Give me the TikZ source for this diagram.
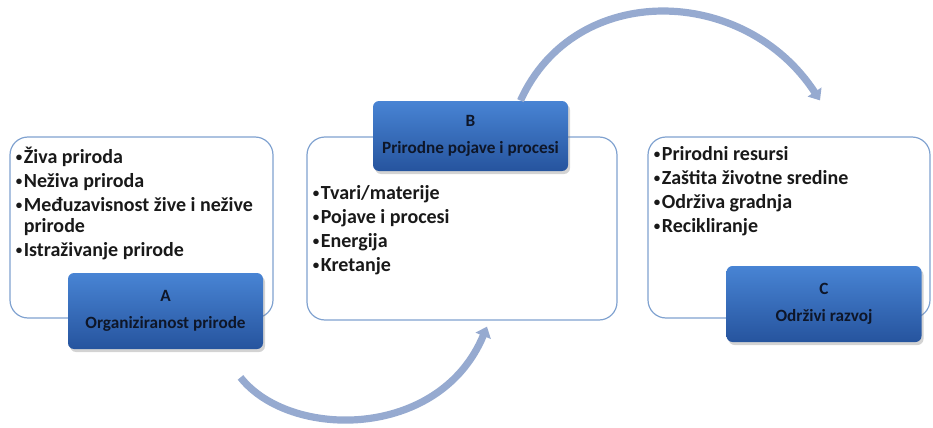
\documentclass[tikz,border=0pt]{standalone}
\usepackage{fontspec}
\setmainfont{Carlito}
\usepackage{tikz}
\usetikzlibrary{arrows.meta, positioning, shadows, calc}
\definecolor{frame}{RGB}{128, 162, 208}
\definecolor{boxtop}{RGB}{72, 132, 212}
\definecolor{boxbottom}{RGB}{38, 84, 158}
\definecolor{boxtext}{RGB}{14, 22, 40}
\definecolor{flow}{RGB}{150, 170, 208}
\newcommand{\bul}{{\fontsize{6.5}{6.5}\selectfont\raisebox{1.1pt}{•}}\hspace{0.8pt}}

\begin{document}
\begin{tikzpicture}[x=0.5pt, y=-0.5pt,
  listbox/.style={draw=frame, line width=0.6pt, rounded corners=9pt, inner sep=0pt},
  titlebox/.style={top color=boxtop, bottom color=boxbottom, draw=none, rounded corners=3pt,
    drop shadow={shadow xshift=1pt, shadow yshift=-1.5pt, opacity=0.35},
    minimum width=97.5pt, font=\fontsize{8.6}{11}\selectfont\bfseries, text=boxtext, align=center},
  items/.style={anchor=north west, inner sep=0pt, align=left, text=black!90,
    font=\fontsize{10}{10.5}\selectfont\bfseries},
  flowarrow/.style={draw=flow, line width=3.6pt, -{Triangle[length=5pt, width=8pt]}}]

  \useasboundingbox (0,0) rectangle (933,428);

  % outline boxes
  \node[listbox, minimum width=131.5pt, minimum height=90.5pt] (listA) at (141.5,227.5) {};
  \node[listbox, minimum width=155pt, minimum height=91.5pt] (listB) at (462,228.5) {};
  \node[listbox, minimum width=141pt, minimum height=90.5pt] (listC) at (789,227.5) {};

  % title boxes
  \node[titlebox, minimum height=38pt] (boxA) at (165.5,311) {A\\[2.5pt]Organiziranost prirode};
  \node[titlebox, minimum height=35pt] (boxB) at (470.5,136) {B\\[2.5pt]Prirodne pojave i procesi};
  \node[titlebox, minimum height=38pt] (boxC) at (824,304) {C\\[2.5pt]Održivi razvoj};

  % bullet lists
  \node[items] (itemsA) at ($(listA.north west)+(6,10)$)
    {\bul Živa priroda\\[1.5pt]\bul Neživa priroda\\[1.5pt]\bul Međuzavisnost žive i nežive\\\phantom{\bul}prirode\\[1.5pt]\bul Istraživanje prirode};
  \node[items] (itemsB) at ($(listB.west |- boxB.south)+(6,14)$)
    {\bul Tvari/materije\\[1.5pt]\bul Pojave i procesi\\[1.5pt]\bul Energija\\[1.5pt]\bul Kretanje};
  \node[items] (itemsC) at ($(listC.north west)+(6,10)$)
    {\bul Prirodni resursi\\[1.5pt]\bul Zaštita životne sredine\\[1.5pt]\bul Održiva gradnja\\[1.5pt]\bul Recikliranje};

  % curved arrows
  \coordinate (inB) at ($(listB.south)+(25,6)$);
  \coordinate (inC) at ($(listC.north)+(31,-36)$);
  \draw[flowarrow] ($(boxA.south)+(75,28)$) .. controls (290,440) and (440,440) .. (inB);
  \draw[flowarrow] ($(boxB.north)+(50,0)$) .. controls (575,-20) and (745,-15) .. (inC);
\end{tikzpicture}
\end{document}
